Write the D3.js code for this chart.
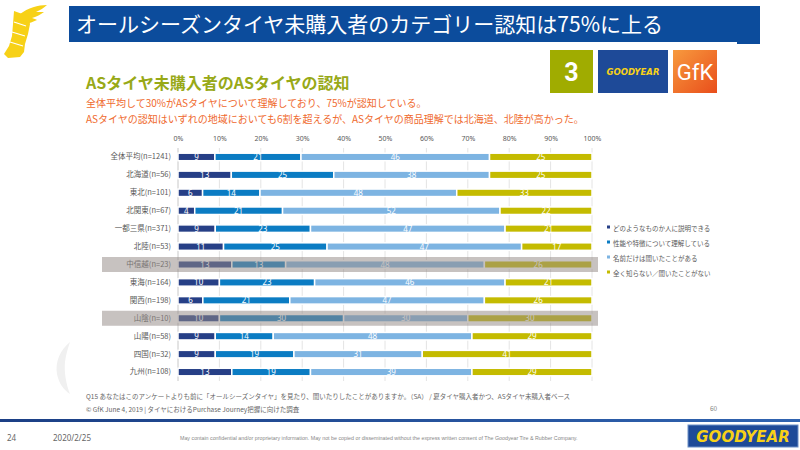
<!DOCTYPE html>
<html>
<head>
<meta charset="utf-8">
<script src="https://cdn.jsdelivr.net/npm/d3@7"></script>
<style>
  html, body { margin: 0; padding: 0; background: #fff; }
  svg { display: block; font-family: "Noto Sans CJK JP", "Noto Sans", sans-serif; }
</style>
</head>
<body>
<svg id="chart" width="800" height="450"></svg>
<script>
// ---------- DATA ----------
const categories = [
  "全体平均(n=1241)", "北海道(n=56)", "東北(n=101)", "北関東(n=67)", "一都三県(n=371)",
  "北陸(n=53)", "中信越(n=23)", "東海(n=164)", "関西(n=198)", "山陰(n=10)",
  "山陽(n=58)", "四国(n=32)", "九州(n=108)"
];
const seriesNames = [
  "どのようなものか人に説明できる",
  "性能や特徴について理解している",
  "名前だけは聞いたことがある",
  "全く知らない／聞いたことがない"
];
const explainValues   = [9, 13, 6, 4, 9, 11, 13, 10, 6, 10, 9, 9, 13];
const understandValues= [21, 25, 14, 21, 23, 25, 13, 23, 21, 30, 14, 19, 19];
const heardValues     = [46, 38, 48, 52, 47, 47, 48, 46, 47, 30, 48, 31, 39];
const unknownValues   = [25, 25, 33, 22, 21, 17, 26, 21, 26, 30, 29, 41, 29];
const highlighted = ["中信越(n=23)", "山陰(n=10)"];
const tickValues = [0, 0.1, 0.2, 0.3, 0.4, 0.5, 0.6, 0.7, 0.8, 0.9, 1.0];

const titleText = "オールシーズンタイヤ未購入者のカテゴリー認知は75%に上る";
const subtitleText = "ASタイヤ未購入者のASタイヤの認知";
const noteLines = [
  "全体平均して30%がASタイヤについて理解しており、75%が認知している。",
  "ASタイヤの認知はいずれの地域においても6割を超えるが、ASタイヤの商品理解では北海道、北陸が高かった。"
];
const footnote1 = "Q15  あなたはこのアンケートよりも前に「オールシーズンタイヤ」を見たり、聞いたりしたことがありますか。（SA）  / 夏タイヤ購入者かつ、ASタイヤ未購入者ベース";
const footnote2 = "© GfK June 4, 2019 | タイヤにおけるPurchase Journey把握に向けた調査";
const disclaimer = "May contain confidential and/or proprietary information. May not be copied or disseminated without the express written consent of The Goodyear Tire & Rubber Company.";

// ---------- SETUP ----------
const colors = ["#263f86", "#0b7cc3", "#7db4e2", "#c4bb00"];
const keys = ["a", "b", "c", "d"];
const rows = categories.map((c, i) => ({
  cat: c, a: explainValues[i], b: understandValues[i], c: heardValues[i], d: unknownValues[i]
}));
const stacked = d3.stack().keys(keys).offset(d3.stackOffsetExpand)(rows);

const svg = d3.select("#chart");

// ---------- HEADER ----------
const defs = svg.append("defs");
const gfkGrad = defs.append("linearGradient").attr("id", "gfk").attr("x1", 0).attr("y1", 0).attr("x2", 1).attr("y2", 1);
gfkGrad.append("stop").attr("offset", "0%").attr("stop-color", "#f79a3e");
gfkGrad.append("stop").attr("offset", "100%").attr("stop-color", "#e94e1b");
const footGrad = defs.append("linearGradient").attr("id", "foot").attr("x1", 0).attr("x2", 1);
footGrad.append("stop").attr("offset", "0%").attr("stop-color", "#1b3f85");
footGrad.append("stop").attr("offset", "100%").attr("stop-color", "#2f63b0");

// wingfoot logo (approximate)
const logo = svg.append("g").attr("fill", "#f7d117");
logo.append("path").attr("d", "M20,14 C28,8 38,5 47,5 C44,8 40,10 36,12 C40,12 42,12 44,12 C40,15 36,17 32,18 C34,19 36,19 37,20 C33,22 29,23 26,24 Z");
logo.append("path").attr("d", "M14,11 L28,16 L30,24 L28,34 L25,44 L24,52 L20,57 L8,58 L4,54 L9,46 L12,36 L13,24 Z");
logo.append("path").attr("d", "M14,22 L26,26 M12,32 L25,36 M10,42 L23,46").attr("stroke", "#fff").attr("stroke-width", 1.2).attr("fill", "none");

// title bar
svg.append("rect").attr("x", 69).attr("y", 6).attr("width", 691).attr("height", 36).attr("fill", "#0c4c9c");
svg.append("rect").attr("x", 737).attr("y", 40).attr("width", 23).attr("height", 4).attr("fill", "#0c4c9c");
svg.append("text").attr("x", 76).attr("y", 32).attr("fill", "#fff").attr("font-size", 21).text(titleText);

// badges
svg.append("rect").attr("x", 550).attr("y", 50).attr("width", 43).attr("height", 43).attr("fill", "#a0ac00");
svg.append("text").attr("x", 571.5).attr("y", 81).attr("text-anchor", "middle").attr("fill", "#fff")
  .attr("font-size", 25).attr("font-weight", "bold").attr("font-family", "Roboto, sans-serif").text("3");
svg.append("rect").attr("x", 598).attr("y", 50).attr("width", 70).attr("height", 43).attr("fill", "#1e4a98");
svg.append("text").attr("x", 633).attr("y", 75).attr("text-anchor", "middle").attr("fill", "#f7d117")
  .attr("font-size", 8.5).attr("font-weight", "bold").attr("font-style", "italic").attr("font-family", "DejaVu Sans, sans-serif").text("GOODYEAR");
svg.append("rect").attr("x", 673).attr("y", 50).attr("width", 44).attr("height", 43).attr("fill", "url(#gfk)");
svg.append("text").attr("x", 695).attr("y", 80).attr("text-anchor", "middle").attr("fill", "#fff")
  .attr("font-size", 22).attr("font-family", "Roboto, sans-serif").text("GfK");

// subtitle & notes
svg.append("text").attr("x", 86).attr("y", 89).attr("fill", "#98a917").attr("font-size", 16).attr("font-weight", "bold").text(subtitleText);
svg.selectAll("text.note").data(noteLines).join("text").attr("class", "note")
  .attr("x", 86).attr("y", (d, i) => 107 + i * 16).attr("fill", "#ef6a2e").attr("font-size", 10).text(d => d);

// ---------- CHART ----------
const x = d3.scaleLinear().domain([0, 1]).range([178, 592]);
const y = d3.scaleBand().domain(categories).range([148, 381]).paddingInner(0.58).paddingOuter(0.29);

// gridlines
svg.append("g").selectAll("line").data(tickValues).join("line")
  .attr("x1", d => x(d)).attr("x2", d => x(d)).attr("y1", 148).attr("y2", 381)
  .attr("stroke", d => d === 0 ? "#c8c8c8" : "#e4e4e4").attr("stroke-width", 1);

// top axis
const xAxis = d3.axisTop(x).tickValues(tickValues).tickFormat(d3.format(".0%")).tickSize(0);
const ax = svg.append("g").attr("transform", "translate(0,144)").call(xAxis);
ax.select(".domain").remove();
ax.selectAll("text").attr("fill", "#595959").attr("font-size", 7).attr("font-family", "Noto Sans, sans-serif");

// left category labels
const yAxis = d3.axisLeft(y).tickSize(0).tickPadding(7);
const ay = svg.append("g").attr("transform", "translate(178,0)").call(yAxis);
ay.select(".domain").remove();
ay.selectAll("text").attr("fill", "#595959").attr("font-size", 7.5).attr("font-family", "Noto Sans CJK JP, sans-serif");

// bars
const layers = svg.append("g").selectAll("g").data(stacked).join("g").attr("fill", (d, i) => colors[i]);
layers.selectAll("rect").data(d => d).join("rect")
  .attr("x", d => x(d[0]))
  .attr("y", d => y(d.data.cat))
  .attr("width", d => Math.max(0, x(d[1]) - x(d[0])))
  .attr("height", y.bandwidth())
  .attr("stroke", "#fff").attr("stroke-width", 1.5);

// value labels
stacked.forEach((layer, li) => {
  svg.append("g").selectAll("text").data(layer).join("text")
    .attr("x", d => (x(d[0]) + x(d[1])) / 2)
    .attr("y", d => y(d.data.cat) + y.bandwidth() / 2 + 3)
    .attr("text-anchor", "middle").attr("fill", "#fff").attr("font-size", 8)
    .attr("font-family", "Noto Sans, sans-serif")
    .text(d => d.data[keys[li]]);
});

// highlight overlay
svg.append("g").selectAll("rect").data(highlighted).join("rect")
  .attr("x", 102).attr("width", 496)
  .attr("y", d => y(d) + y.bandwidth() / 2 - 7.5).attr("height", 15)
  .attr("fill", "rgb(147,139,135)").attr("opacity", 0.52);

// legend
const lg = svg.append("g").selectAll("g").data(seriesNames).join("g")
  .attr("transform", (d, i) => `translate(607,${228 + i * 15})`);
lg.append("rect").attr("x", 0).attr("y", -2.5).attr("width", 3).attr("height", 3).attr("fill", (d, i) => colors[i]);
lg.append("text").attr("x", 6).attr("y", 2.5).attr("fill", "#595959").attr("font-size", 6.5).text(d => d);

// ---------- FOOTER ----------
// faint watermark wing
svg.append("path").attr("d", "M70,342 C60,350 55,362 57,374 C59,384 64,390 70,394 C66,384 64,372 65,362 C66,354 68,348 70,342 Z")
  .attr("fill", "#f0f0f0");

svg.append("text").attr("x", 86).attr("y", 399).attr("fill", "#666").attr("font-size", 6.5).text(footnote1);
svg.append("text").attr("x", 86).attr("y", 412).attr("fill", "#666").attr("font-size", 6.5).text(footnote2);
svg.append("text").attr("x", 710).attr("y", 411).attr("fill", "#888").attr("font-size", 6.5).text("60");

svg.append("rect").attr("x", 0).attr("y", 419).attr("width", 800).attr("height", 3).attr("fill", "url(#foot)");
svg.append("text").attr("x", 7).attr("y", 441).attr("fill", "#666").attr("font-size", 8).attr("font-family", "Noto Sans, sans-serif").text("24");
svg.append("text").attr("x", 53).attr("y", 441).attr("fill", "#666").attr("font-size", 8).attr("font-family", "Noto Sans, sans-serif").text("2020/2/25");
svg.append("text").attr("x", 180).attr("y", 440).attr("fill", "#888").attr("font-size", 5.3).attr("font-family", "Liberation Sans Narrow, Liberation Sans, sans-serif").text(disclaimer);

svg.append("rect").attr("x", 688).attr("y", 425).attr("width", 110).attr("height", 22).attr("fill", "#1e4a98")
  .attr("stroke", "#6d8fc6").attr("stroke-width", 1);
svg.append("text").attr("x", 743).attr("y", 442).attr("text-anchor", "middle").attr("fill", "#f7d117")
  .attr("font-size", 15).attr("font-weight", "bold").attr("font-style", "italic").attr("font-family", "DejaVu Sans, sans-serif").text("GOODYEAR");
</script>
</body>
</html>
